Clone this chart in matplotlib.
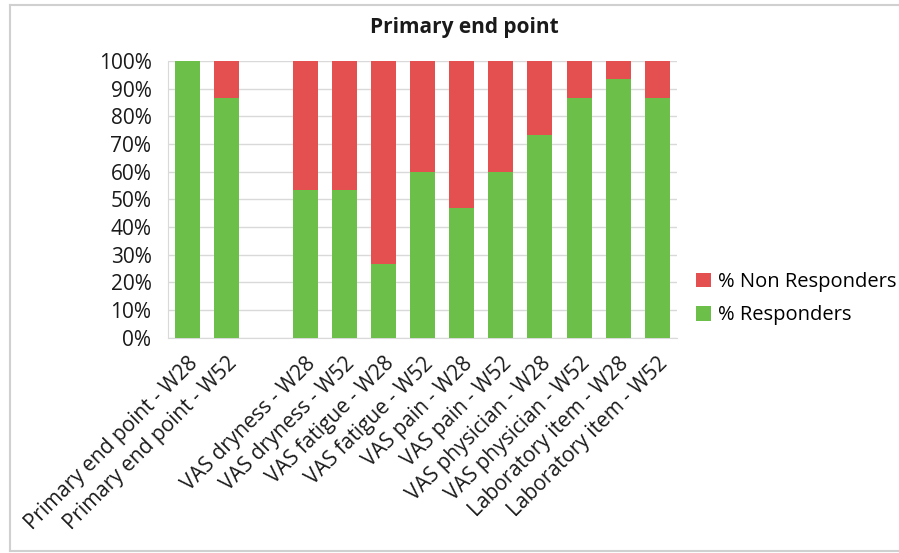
import matplotlib.pyplot as plt
from matplotlib.lines import Line2D
from matplotlib.ticker import PercentFormatter

plt.rcParams['font.family'] = ['Open Sans', 'DejaVu Sans']

# Dữ liệu: tỷ lệ đáp ứng theo từng tiêu chí (ô trống giữa nhóm)
labels = ['Primary end point - W28', 'Primary end point - W52', '',
          'VAS dryness - W28', 'VAS dryness - W52',
          'VAS fatigue - W28', 'VAS fatigue - W52',
          'VAS pain - W28', 'VAS pain - W52',
          'VAS physician - W28', 'VAS physician - W52',
          'Laboratory item - W28', 'Laboratory item - W52']
responders = [100, 86.7, 0, 53.3, 53.3, 26.7, 60, 46.7, 60, 73.3, 86.7, 93.3, 86.7]
non_responders = [0, 13.3, 0, 46.7, 46.7, 73.3, 40, 53.3, 40, 26.7, 13.3, 6.7, 13.3]

green = '#6cc04a'
red = '#e4504f'

fig = plt.figure(figsize=(8.99, 5.53), dpi=100)
ax = fig.add_axes([0.187, 0.389, 0.566, 0.501])

x = range(len(labels))
ax.bar(x, responders, width=0.64, color=green, label='% Responders', zorder=3)
ax.bar(x, non_responders, width=0.64, bottom=responders, color=red,
       label='% Non Responders', zorder=3)

ax.set_ylim(0, 100)
ax.set_xlim(-0.5, len(labels) - 0.5)
ax.set_yticks(range(0, 101, 10))
ax.yaxis.set_major_formatter(PercentFormatter(decimals=0))
ax.set_xticks(list(x))
ax.set_xticklabels(labels, rotation=45, ha='right', rotation_mode='anchor',
                   fontsize=15, color='#1a1a1a')
ax.tick_params(axis='y', labelsize=15, colors='#1a1a1a', length=0, pad=12)
ax.tick_params(axis='x', length=0, pad=11)
ax.grid(axis='y', color='#d9d9d9', linewidth=1, zorder=0)
for s in ['top', 'right']:
    ax.spines[s].set_visible(False)
for s in ['left', 'bottom']:
    ax.spines[s].set_color('#d9d9d9')

handles, names = ax.get_legend_handles_labels()
fig.legend(handles[::-1], names[::-1], loc='center left',
           bbox_to_anchor=(0.754, 0.46), frameon=False, fontsize=14.5,
           handlelength=0.75, handleheight=0.75, handletextpad=0.35,
           labelspacing=0.65)

fig.text(0.516, 0.95, 'Primary end point', ha='center', va='center',
         fontsize=15, fontweight='bold', color='#1a1a1a')

# Khung viền biểu đồ (trên, trái, dưới)
frame = dict(transform=fig.transFigure, color='#d0d0d0', linewidth=1.5)
fig.lines.append(Line2D([0.011, 1.0], [0.991, 0.991], **frame))
fig.lines.append(Line2D([0.011, 0.011], [0.003, 0.991], **frame))
fig.lines.append(Line2D([0.011, 1.0], [0.003, 0.003], **frame))

fig.savefig('out.png', dpi=100)
